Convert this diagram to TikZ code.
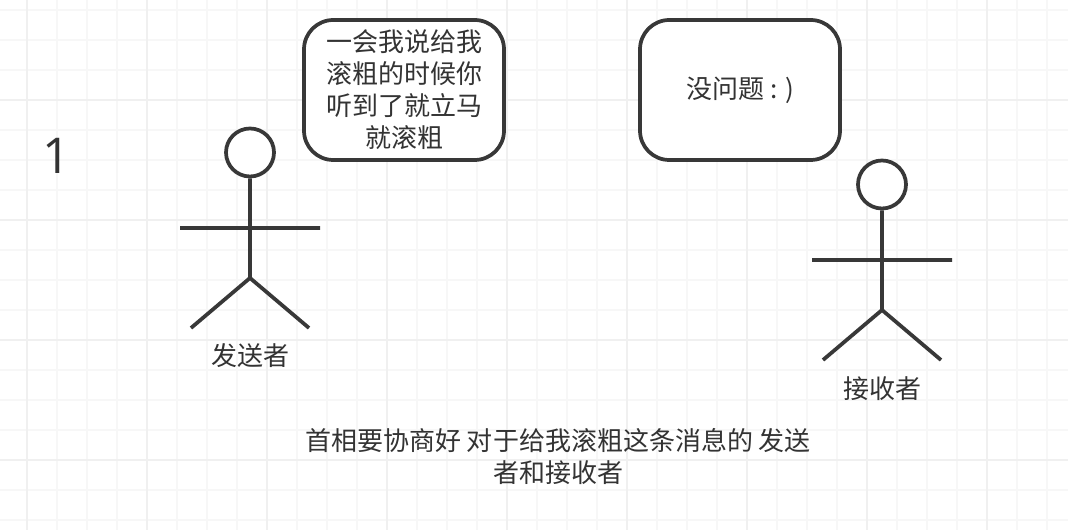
\documentclass[tikz,border=0pt]{standalone}
\usepackage{fontspec}
\setmainfont{Noto Sans CJK SC}
\newfontfamily\digitfont{Open Sans}
\usepackage{tikz}
\usetikzlibrary{positioning}

\tikzset{
	gridminor/.style={draw=black!3,line width=1.8pt},
	gridmajor/.style={draw=black!6,line width=2pt},
	stickline/.style={draw=black!78,line width=2.8pt},
	head/.style={circle,stickline,fill=white,inner sep=0pt,minimum size=36pt},
	bubble/.style={stickline,fill=white,rounded corners=22pt,minimum width=150pt,minimum height=105pt,inner sep=0pt,align=center},
	caption/.style={text=black!80,align=center,inner sep=0pt,font=\fontsize{19.5}{24}\selectfont}
}

\begin{document}
\begin{tikzpicture}[x=0.75pt,y=-0.75pt,every node/.style={text=black!80,font=\fontsize{19.5}{24}\selectfont}]
			\useasboundingbox (0,0) rectangle (1068,530);
			\fill[white] (0,0) rectangle (1068,530);
			\foreach \x in {27,57,...,1067} \draw[gridminor] (\x,0) -- (\x,530);
			\foreach \y in {10,40,...,530} \draw[gridminor] (0,\y) -- (1068,\y);
			\foreach \x in {27,147,...,1067} \draw[gridmajor] (\x,0) -- (\x,530);
			\foreach \y in {100,220,...,530} \draw[gridmajor] (0,\y) -- (1068,\y);
			\node[caption,font=\digitfont\fontsize{37}{40}\selectfont] (number) at (57,156) {1};
			\node[bubble] (ask) at (404,90) {一会我说给我\\滚粗的时候你\\听到了就立马\\就滚粗};
			\node[bubble] (reply) at (740,90) {没问题 : )};
			\node[head] (senderhead) at (250,152.5) {};
			\coordinate (senderhip) at (250,278);
			\coordinate (senderarml) at (180,228);
			\coordinate (senderarmr) at (320,228);
			\coordinate (senderlegl) at (191,328);
			\coordinate (senderlegr) at (309,328);
			\node[head] (receiverhead) at (882,184.5) {};
			\coordinate (receiverhip) at (882,310);
			\coordinate (receiverarml) at (812,260);
			\coordinate (receiverarmr) at (952,260);
			\coordinate (receiverlegl) at (823,360);
			\coordinate (receiverlegr) at (941,360);
			\path[stickline]
				(senderhead) -- (senderhip)
				(senderarml) -- (senderarmr)
				(senderlegl) -- (senderhip) -- (senderlegr)
				(receiverhead) -- (receiverhip)
				(receiverarml) -- (receiverarmr)
				(receiverlegl) -- (receiverhip) -- (receiverlegr);
			\node[caption] (sender) at (250,356) {发送者};
			\node[caption] (receiver) at (882,389) {接收者};
			\node[caption] (note) at (558,457) {首相要协商好 对于给我滚粗这条消息的 发送\\者和接收者};
		\end{tikzpicture}
\end{document}
